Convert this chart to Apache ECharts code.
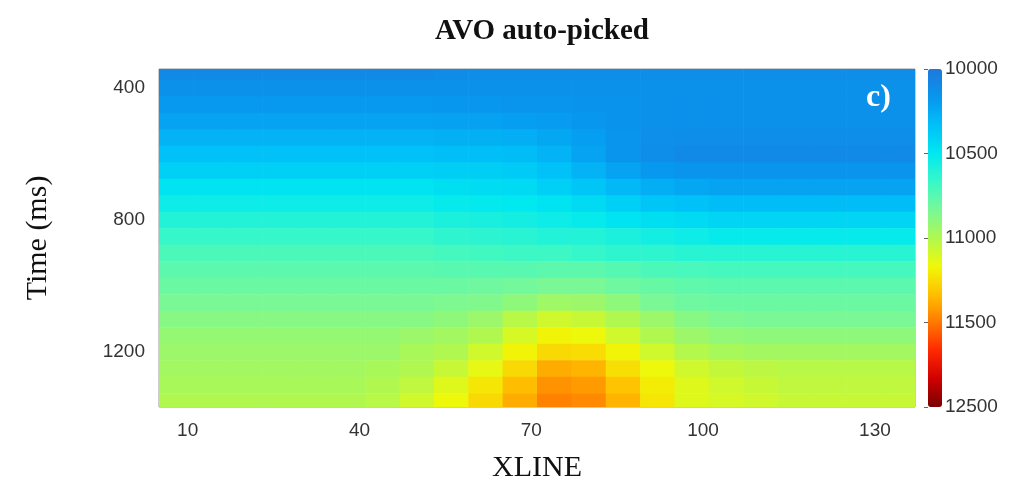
<!DOCTYPE html>
<html>
<head>
<meta charset="utf-8">
<script src="https://cdn.jsdelivr.net/npm/echarts@6/dist/echarts.min.js"></script>
<style>
html,body{margin:0;padding:0;background:#fff;}
#chart{width:1036px;height:493px;}
</style>
</head>
<body>
<div id="chart"></div>
<script>
// XLINE cell centres and Time (ms) cell centres
var xlines = [8,14,20,26,32,38,44,50,56,62,68,74,80,86,92,98,104,110,116,122,128,134];
var times = [350,400,450,500,550,600,650,700,750,800,850,900,950,1000,1050,1100,1150,1200,1250,1300,1350];
// velocity values, one row per time, one entry per xline
var values = [
 [10100,10100,10100,10100,10100,10100,10100,10100,10110,10120,10120,10120,10120,10120,10120,10120,10120,10120,10120,10120,10120,10120],
 [10140,10140,10140,10140,10140,10140,10140,10140,10140,10140,10140,10140,10140,10140,10140,10140,10140,10140,10140,10140,10140,10140],
 [10180,10180,10180,10180,10180,10180,10180,10180,10170,10170,10160,10160,10150,10150,10140,10140,10140,10140,10140,10140,10140,10140],
 [10220,10220,10220,10220,10220,10220,10220,10220,10210,10210,10200,10190,10170,10150,10140,10140,10140,10140,10140,10140,10140,10140],
 [10280,10280,10280,10280,10280,10280,10280,10280,10270,10270,10260,10240,10200,10160,10130,10120,10120,10120,10120,10120,10120,10120],
 [10340,10340,10340,10340,10340,10340,10340,10340,10330,10330,10320,10280,10220,10160,10120,10100,10100,10100,10100,10100,10100,10100],
 [10400,10400,10400,10400,10400,10400,10400,10400,10390,10390,10380,10340,10280,10220,10180,10160,10160,10160,10160,10160,10160,10160],
 [10480,10480,10480,10480,10480,10480,10480,10480,10460,10450,10440,10400,10360,10300,10260,10240,10220,10220,10220,10220,10220,10220],
 [10540,10540,10540,10540,10540,10540,10540,10540,10520,10510,10500,10480,10440,10400,10360,10340,10320,10320,10320,10320,10320,10320],
 [10600,10600,10600,10600,10600,10600,10600,10600,10580,10570,10560,10540,10520,10480,10460,10440,10420,10420,10420,10420,10420,10420],
 [10660,10660,10660,10660,10660,10660,10660,10660,10640,10630,10620,10600,10600,10580,10560,10540,10520,10520,10520,10520,10520,10520],
 [10720,10720,10720,10720,10720,10720,10720,10720,10700,10690,10680,10680,10660,10640,10640,10620,10620,10620,10620,10620,10620,10620],
 [10760,10760,10760,10760,10760,10760,10760,10760,10750,10750,10750,10760,10760,10740,10720,10710,10700,10700,10700,10700,10700,10700],
 [10800,10800,10800,10800,10800,10800,10800,10800,10800,10810,10820,10840,10840,10810,10790,10770,10760,10760,10760,10760,10760,10760],
 [10840,10840,10840,10840,10840,10840,10840,10840,10850,10860,10900,10950,10940,10900,10840,10810,10800,10800,10800,10800,10800,10800],
 [10880,10880,10880,10880,10880,10880,10880,10880,10900,10940,11020,11080,11060,11000,10940,10880,10850,10840,10840,10840,10840,10840],
 [10920,10920,10920,10920,10920,10920,10920,10940,10960,11000,11100,11180,11160,11080,11000,10940,10910,10900,10900,10900,10900,10900],
 [10940,10940,10940,10940,10940,10940,10940,10980,11000,11080,11180,11260,11250,11180,11080,11010,10980,10960,10960,10960,10960,10960],
 [10960,10960,10960,10960,10960,10960,10980,11000,11060,11140,11260,11380,11360,11240,11160,11080,11050,11030,11020,11020,11020,11020],
 [10980,10980,10980,10980,10980,10980,11000,11040,11120,11220,11340,11440,11420,11320,11200,11120,11080,11060,11040,11040,11040,11040],
 [11000,11000,11000,11000,11000,11000,11020,11080,11160,11260,11380,11480,11460,11360,11220,11120,11100,11080,11060,11060,11060,11060]
];
var xTicks = [10,40,70,100,130];
var tTicks = [400,800,1200];
var barLabels = ['10000','10500','11000','11500','12500'];

var dx = 6, dt = 50;
var data = [];
for (var i = 0; i < times.length; i++) {
  for (var j = 0; j < xlines.length; j++) {
    data.push([xlines[j], times[i], values[i][j]]);
  }
}

var chart = echarts.init(document.getElementById('chart'), null, {renderer:'canvas'});
var sans = 'Liberation Sans, Arial, sans-serif';
var serif = 'Liberation Serif, Times New Roman, serif';
function plain(v) { return String(v); }
chart.setOption({
  animation: false,
  backgroundColor: '#fff',
  title: {
    text: 'AVO auto-picked', left: 537, top: 12, textAlign: 'center',
    textStyle: {fontFamily: serif, fontWeight: 'bold', fontSize: 29, color: '#111'}
  },
  grid: [
    {left: 159, right: 121, top: 69, bottom: 86, show: true, borderColor: '#999', borderWidth: 1},
    {left: 928, width: 14, top: 69, height: 338}
  ],
  xAxis: [
    {type: 'value', gridIndex: 0, min: 5, max: 137,
     name: 'XLINE', nameLocation: 'middle', nameGap: 46,
     nameTextStyle: {fontFamily: serif, fontSize: 30, color: '#111'},
     axisLine: {show: false}, axisTick: {show: false}, splitLine: {show: false},
     axisLabel: {customValues: xTicks, formatter: plain, fontFamily: sans, fontSize: 19, color: '#333', margin: 14}},
    {type: 'value', gridIndex: 1, show: false}
  ],
  yAxis: [
    {type: 'value', gridIndex: 0, min: 342, max: 1367, inverse: true,
     name: 'Time (ms)', nameLocation: 'middle', nameGap: 106,
     nameTextStyle: {fontFamily: serif, fontSize: 30, color: '#111'},
     axisLine: {show: false}, axisTick: {show: false}, splitLine: {show: false},
     axisLabel: {customValues: tTicks, formatter: plain, fontFamily: sans, fontSize: 19, color: '#333', margin: 14}},
    {type: 'category', gridIndex: 1, data: barLabels, boundaryGap: false, inverse: true, position: 'right',
     axisLine: {show: false},
     axisTick: {show: true, inside: true, length: 4, lineStyle: {color: '#666'}},
     splitLine: {show: false},
     axisLabel: {fontFamily: sans, fontSize: 19, color: '#333', margin: 3, interval: 0}}
  ],
  visualMap: {
    type: 'continuous', min: 10000, max: 12000, dimension: 2, seriesIndex: 0,
    orient: 'vertical', inverse: true, left: 928, top: 69, itemWidth: 14, itemHeight: 338,
    padding: 0, calculable: false, showLabel: false, text: null, hoverLink: false,
    inRange: {color: ['#1e78dc','#0896ee','#00c0f8','#00e8f0','#38f8c8','#78f898','#b0f850','#f0f808','#ffc000','#ff7800','#ff2800','#d00000','#780000']}
  },
  series: [{
    type: 'custom', xAxisIndex: 0, yAxisIndex: 0, clip: true,
    encode: {x: 0, y: 1},
    data: data,
    renderItem: function (params, api) {
      var x = api.value(0), t = api.value(1);
      var p0 = api.coord([x - dx / 2, t - dt / 2]);
      var p1 = api.coord([x + dx / 2, t + dt / 2]);
      return {
        type: 'rect',
        shape: {x: Math.min(p0[0], p1[0]), y: Math.min(p0[1], p1[1]),
                width: Math.abs(p1[0] - p0[0]) + 0.6, height: Math.abs(p1[1] - p0[1]) + 0.6},
        style: {fill: api.visual('color')}
      };
    }
  }],
  graphic: [{
    type: 'text', left: 866, top: 82, z: 100,
    style: {text: 'c)', fontFamily: serif, fontWeight: 'bold', fontSize: 32, fill: '#fff'}
  }]
});
</script>
</body>
</html>
